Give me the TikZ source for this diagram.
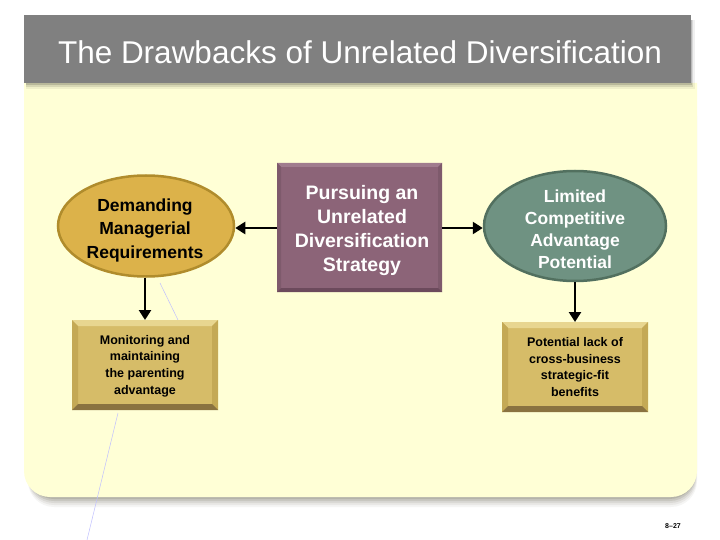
\documentclass[tikz,border=0pt]{standalone}
\usepackage{fontspec}
\setmainfont{Liberation Sans}
\usetikzlibrary{shapes.geometric,arrows.meta,calc}
\definecolor{panel}{HTML}{FFFFD6}
\definecolor{titlegray}{HTML}{808080}
\definecolor{goldfill}{HTML}{DCB24A}
\definecolor{golddraw}{HTML}{B08C2C}
\definecolor{mauvefill}{HTML}{8C6478}
\definecolor{mauvelight}{HTML}{A07C8E}
\definecolor{mauvedark}{HTML}{6C4A5C}
\definecolor{sagefill}{HTML}{6F9282}
\definecolor{sagedraw}{HTML}{52705F}
\definecolor{boxfill}{HTML}{D6BC68}
\definecolor{boxlight}{HTML}{E8D690}
\definecolor{boxmid}{HTML}{C4A955}
\definecolor{boxdark}{HTML}{8A7240}
\newcommand\bevelbox[5]{%
  \fill[#3] (#1.north west) -- (#1.north east) -- ($(#1.north east)+(-#2,#2)$) -- ($(#1.north west)+(#2,#2)$) -- cycle;
  \fill[#5] (#1.north west) -- ($(#1.north west)+(#2,#2)$) -- ($(#1.south west)+(#2,-#2)$) -- (#1.south west) -- cycle;
  \fill[#5] (#1.north east) -- ($(#1.north east)+(-#2,#2)$) -- ($(#1.south east)+(-#2,-#2)$) -- (#1.south east) -- cycle;
  \fill[#4] (#1.south west) -- (#1.south east) -- ($(#1.south east)+(-#2,-#2)$) -- ($(#1.south west)+(#2,-#2)$) -- cycle;
}
\tikzset{
  arr/.style={line width=2.6pt, -{Triangle[length=10pt,width=12pt]}},
  ell/.style={ellipse, line width=2.5pt, inner sep=0pt},
  sqbox/.style={rectangle, inner sep=0pt, outer sep=0pt, align=center},
  smalltxt/.style={align=center, font=\bfseries\fontsize{12.5}{16.8}\selectfont}
}
\begin{document}
\begin{tikzpicture}[x=1pt,y=-1pt]
\useasboundingbox (0,0) rectangle (720,540);
\fill[white] (0,0) rectangle (720,540);
% panel shadow
\foreach \o/\op in {10/0.05,8/0.07,6/0.09,4/0.12,2/0.15}{
  \fill[black!60!olive, opacity=\op, rounded corners=26pt] (28,90) rectangle (695+\o*0.2,497+\o);
}
% panel
\fill[panel] (24,83) [rounded corners=26pt] -- (24,497) -- (697,497) [sharp corners]-- (697,83) -- cycle;
% title shadow
\foreach \o/\op in {6/0.06,4/0.1,2/0.14}{
  \fill[black, opacity=\op] (26,20) rectangle (691+\o*0.6,83+\o);
}
\fill[titlegray] (24,15) rectangle (691,83);
\node[text=white, font=\fontsize{31.5}{36}\selectfont] (title) at (360,52) {The Drawbacks of Unrelated Diversification};
% faint lines
\draw[blue!25, line width=0.5pt] (160,283) -- (178,320);
\draw[blue!25, line width=0.5pt] (118,413) -- (87,540);
% central box
\node[sqbox, fill=mauvefill, minimum width=165pt, minimum height=129pt] (center) at (359.5,227.5) {};
\bevelbox{center}{4}{mauvelight}{mauvedark}{mauvefill!90!black}
\node[sqbox, text=white, font=\bfseries\fontsize{19.5}{24}\selectfont] (ctext) at (362,231)
  {Pursuing an\\Unrelated\\Diversification\\Strategy};
% ellipses
\node[ell, fill=goldfill, draw=golddraw, minimum width=176pt, minimum height=101pt] (left) at (146,226) {};
\node[align=center, font=\bfseries\fontsize{17.5}{23.5}\selectfont] (ltitle) at (145,230)
  {Demanding\\Managerial\\Requirements};
\node[ell, fill=sagefill, draw=sagedraw, minimum width=182pt, minimum height=110pt] (right) at (575,226) {};
\node[align=center, text=white, font=\bfseries\fontsize{17.5}{22}\selectfont] (rtitle) at (575,229)
  {Limited\\Competitive\\Advantage\\Potential};
% bottom boxes
\node[sqbox, fill=boxfill, minimum width=146pt, minimum height=90pt] (lbox) at (145,365) {};
\bevelbox{lbox}{6}{boxlight}{boxdark}{boxmid}
\node[smalltxt] (ltext) at (145,366) {Monitoring and\\maintaining\\the parenting\\advantage};
\node[sqbox, fill=boxfill, minimum width=146pt, minimum height=90pt] (rbox) at (575,367) {};
\bevelbox{rbox}{6}{boxlight}{boxdark}{boxmid}
\node[smalltxt] (rtext) at (575,367) {Potential lack of\\cross-business\\strategic-fit\\benefits};
% arrows
\draw[arr] (center.west |- 0,228) -- (left.east |- 0,228);
\draw[arr] (center.east |- 0,228) -- (right.west |- 0,228);
\draw[arr] (left.south -| 145,0) -- (lbox.north);
\draw[arr] (right.south) -- (rbox.north);
% page number
\node[font=\bfseries\fontsize{7}{8}\selectfont] (pg) at (673,526) {8--27};
\end{tikzpicture}
\end{document}
